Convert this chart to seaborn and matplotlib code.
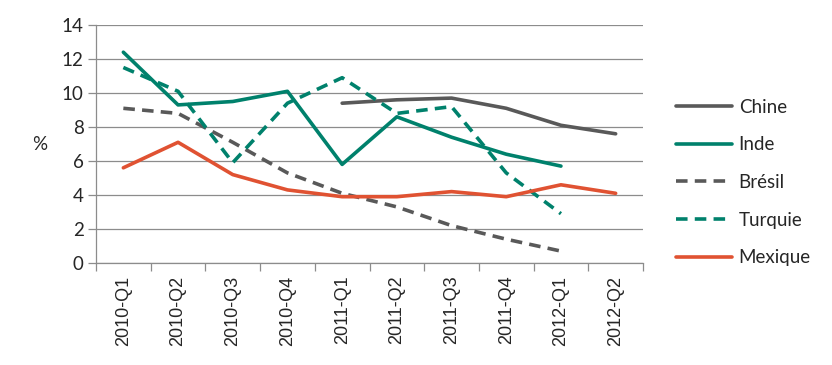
import numpy as np
import pandas as pd
import matplotlib
matplotlib.use('Agg')
import matplotlib.pyplot as plt
import seaborn as sns

# Data
quarters = ['2010-Q1', '2010-Q2', '2010-Q3', '2010-Q4', '2011-Q1',
            '2011-Q2', '2011-Q3', '2011-Q4', '2012-Q1', '2012-Q2']
chine = [np.nan, np.nan, np.nan, np.nan, 9.4, 9.6, 9.7, 9.1, 8.1, 7.6]
inde = [12.4, 9.3, 9.5, 10.1, 5.8, 8.6, 7.4, 6.4, 5.7, np.nan]
bresil = [9.1, 8.8, 7.1, 5.3, 4.1, 3.3, 2.2, 1.4, 0.7, np.nan]
turquie = [11.5, 10.1, 5.9, 9.4, 10.9, 8.8, 9.2, 5.3, 2.9, np.nan]
mexique = [5.6, 7.1, 5.2, 4.3, 3.9, 3.9, 4.2, 3.9, 4.6, 4.1]

series = {'Chine': chine, 'Inde': inde, 'Brésil': bresil,
          'Turquie': turquie, 'Mexique': mexique}

# long format for seaborn
rows = []
for name, vals in series.items():
    for i, v in enumerate(vals):
        rows.append({'pos': i, 'pays': name, 'val': v})
df = pd.DataFrame(rows).dropna()

sns.set_style('white')
plt.rcParams['font.family'] = ['Lato', 'DejaVu Sans']

grey = '#595959'
teal = '#00816C'
red = '#E05232'
palette = {'Chine': grey, 'Inde': teal, 'Brésil': grey, 'Turquie': teal, 'Mexique': red}
dashes = {'Chine': '', 'Inde': '', 'Brésil': (3.2, 2.0), 'Turquie': (3.2, 2.0), 'Mexique': ''}

fig = plt.figure(figsize=(8.32, 3.65), dpi=100)
ax = fig.add_axes([96 / 832, 102 / 365, 547 / 832, 238 / 365])

sns.lineplot(data=df, x='pos', y='val', hue='pays', style='pays',
             hue_order=list(series), style_order=list(series),
             palette=palette, dashes=dashes, linewidth=2.6, ax=ax,
             estimator=None, sort=False)

ax.set_xlim(-0.5, 9.5)
ax.set_ylim(0, 14)
ax.set_yticks(np.arange(0, 15, 2))
ax.yaxis.grid(True, color='#8c8c8c', linewidth=0.9)
ax.set_axisbelow(True)

ax.set_xticks(np.arange(len(quarters)))
ax.set_xticklabels(quarters, rotation=90, family=['Liberation Sans', 'DejaVu Sans'], fontsize=13)
ax.set_xticks(np.arange(-0.5, 10, 1), minor=True)
ax.tick_params(axis='x', which='major', length=0, pad=9)
ax.tick_params(axis='x', which='minor', length=6, color='#8c8c8c', width=0.9, direction='out')
ax.tick_params(axis='y', length=6, color='#8c8c8c', width=0.9, direction='out', labelsize=13.5, pad=3)
ax.tick_params(bottom=True, left=True, which='both')

for s in ['top', 'right']:
    ax.spines[s].set_visible(False)
for s in ['left', 'bottom']:
    ax.spines[s].set_color('#8c8c8c')
    ax.spines[s].set_linewidth(0.9)

ax.set_xlabel('')
ax.set_ylabel('%', rotation=0, fontsize=13.5, labelpad=16, va='center')

handles, labels = ax.get_legend_handles_labels()
ax.legend(handles, labels, loc='center left', bbox_to_anchor=(659 / 832, 0.5),
          bbox_transform=fig.transFigure, frameon=False, fontsize=13.5,
          handlelength=3.0, labelspacing=1.1, handletextpad=0.35)

fig.savefig('out.png', dpi=100)
